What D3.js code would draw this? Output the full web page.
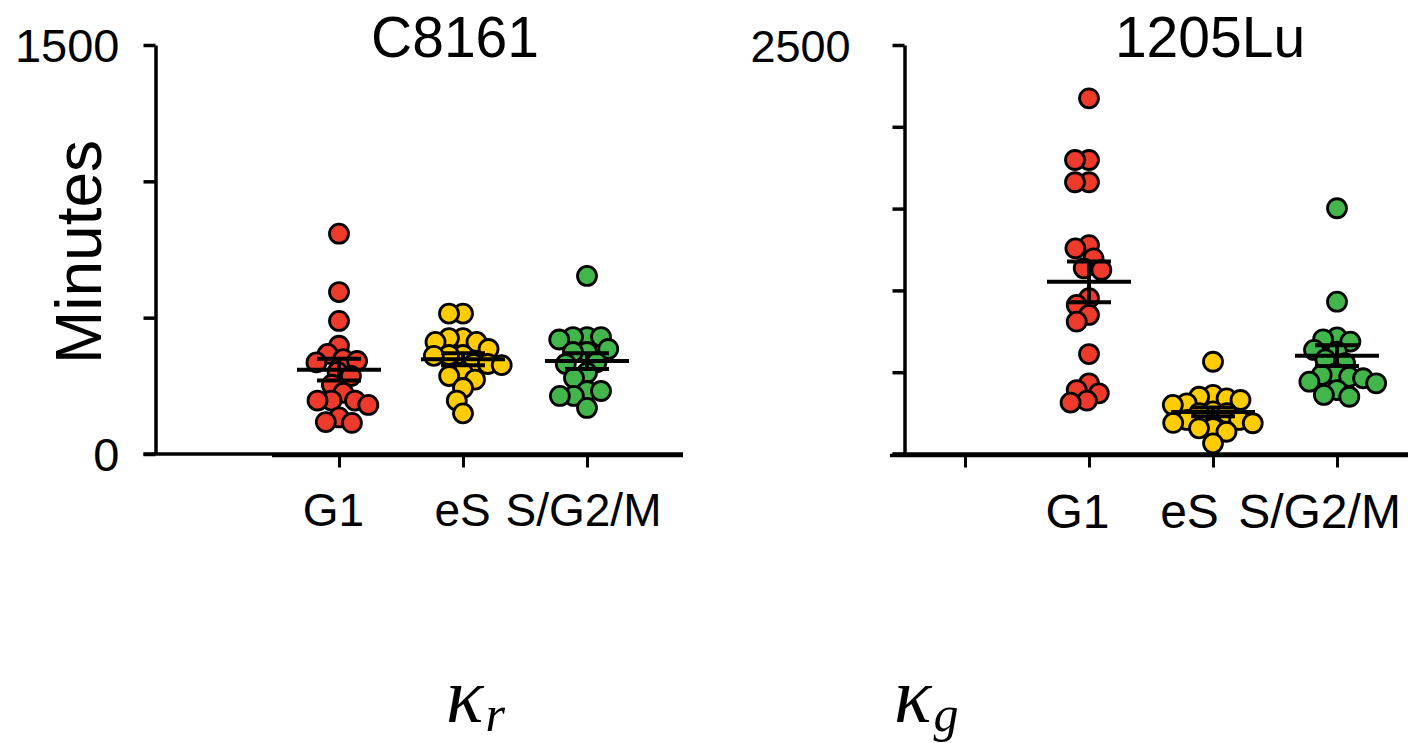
<!DOCTYPE html>
<html>
<head>
<meta charset="utf-8">
<script src="https://cdn.jsdelivr.net/npm/d3@7"></script>
<style>
  html, body { margin: 0; padding: 0; background: #fff; }
  svg { display: block; }
  text { font-family: "Liberation Sans", Arial, sans-serif; fill: #000; }
</style>
</head>
<body>
<svg id="chart" width="1408" height="743"></svg>
<script>
// Cell-cycle phases on the x axis
const phases = ["G1", "eS", "S/G2/M"];
const phaseColors = ["#EE3A2B", "#FFCC00", "#43B64B"];

// C8161 durations (minutes)
const c8161G1 = [808, 594, 488, 397, 367, 348, 341, 336, 301, 286, 254, 224, 196, 196, 196, 180, 134, 117, 114];
const c8161ES = [515, 515, 425, 425, 411, 411, 385, 363, 363, 360, 330, 330, 326, 298, 286, 273, 242, 196, 149];
const c8161SG2M = [653, 429, 429, 429, 420, 385, 374, 374, 336, 330, 298, 279, 231, 231, 213, 213, 169];

// 1205Lu durations (minutes)
const lu1205G1 = [2174, 1797, 1797, 1661, 1661, 1257, 1277, 1196, 1135, 1125, 911, 952, 809, 850, 611, 432, 371, 314, 326, 391];
const lu1205ES = [564, 361, 350, 340, 330, 310, 300, 260, 250, 250, 208, 208, 190, 188, 159, 157, 136, 65];
const lu1205SG2M = [1502, 931, 713, 701, 687, 636, 626, 578, 556, 493, 483, 472, 463, 442, 432, 391, 361, 350];

// Axis ticks
const c8161Ticks = [0, 500, 1000, 1500];
const c8161TickLabels = ["0", "", "", "1500"];
const lu1205Ticks = [0, 500, 1000, 1500, 2000, 2500];
const lu1205TickLabels = ["", "", "", "", "", "2500"];

const svg = d3.select("#chart");
const R = 9.5;        // dot radius
const MIN_D = 14;     // centre spacing in the swarm (dots overlap a little)

// Deterministic beeswarm: each dot goes as close to the category centre as it can
function swarm(values, cx, y) {
  const pts = values.map(v => ({ v, y: y(v) })).sort((a, b) => d3.descending(a.v, b.v));
  const placed = [];
  for (const p of pts) {
    const near = placed.filter(q => Math.abs(q.y - p.y) < MIN_D);
    const cands = [cx];
    near.forEach(q => {
      const w = Math.sqrt(MIN_D * MIN_D - (q.y - p.y) ** 2);
      cands.push(q.x - w - 0.01, q.x + w + 0.01);
    });
    const ok = cands.filter(c => near.every(q => Math.hypot(q.x - c, q.y - p.y) >= MIN_D - 0.02));
    ok.sort((a, b) => Math.abs(a - cx) - Math.abs(b - cx) || a - b);
    p.x = ok[0];
    placed.push(p);
  }
  return placed;
}

function panel(cfg) {
  const g = svg.append("g");
  const y = d3.scaleLinear().domain(cfg.yDomain).range([454, 45]);
  const x = d3.scalePoint().domain(cfg.xDomain).range(cfg.xRange);

  // baseline under the y axis
  g.append("line")
    .attr("x1", cfg.axisX - 12).attr("x2", cfg.baseEnd)
    .attr("y1", y(0)).attr("y2", y(0))
    .attr("stroke", "#000").attr("stroke-width", 3.5);

  // category axis
  const xa = g.append("g")
    .attr("transform", `translate(0,${y(0) + 1.5})`)
    .call(d3.axisBottom(x).tickSize(12).tickPadding(26).tickSizeOuter(0));
  xa.select(".domain").remove();
  xa.append("line")
    .attr("x1", cfg.xLineStart).attr("x2", cfg.baseEnd)
    .attr("stroke", "#000").attr("stroke-width", 3.5);
  xa.selectAll(".tick line").attr("stroke", "#000").attr("stroke-width", 3);
  xa.selectAll(".tick text")
    .attr("font-size", cfg.catSize)
    .attr("dy", "0.71em")
    .attr("dx", (d, i) => cfg.labelDx[i] || 0)
    .style("font-family", "'Liberation Sans', Arial, sans-serif");

  // value axis
  const ya = g.append("g")
    .attr("transform", `translate(${cfg.axisX},0)`)
    .call(d3.axisLeft(y).tickValues(cfg.ticks).tickSize(12).tickPadding(cfg.tickPad)
      .tickSizeOuter(0)
      .tickFormat((d, i) => cfg.tickLabels[i]));
  ya.select(".domain").attr("stroke-width", 3.5);
  ya.selectAll(".tick line").attr("stroke-width", 3.5);
  ya.selectAll(".tick text")
    .attr("font-size", cfg.tickSize)
    .attr("dy", "0.36em")
    .style("font-family", "'Liberation Sans', Arial, sans-serif");

  // title
  g.append("text")
    .attr("x", cfg.titleX).attr("y", 57)
    .attr("text-anchor", "middle")
    .attr("font-size", 57)
    .text(cfg.title);

  // dots and mean ± SEM per phase
  cfg.series.forEach((vals, i) => {
    const cx = x(phases[i]);
    const dots = swarm(vals, cx, y);
    g.append("g").selectAll("circle")
      .data(dots).join("circle")
      .attr("cx", d => d.x).attr("cy", d => d.y).attr("r", R)
      .attr("fill", phaseColors[i])
      .attr("stroke", "#000").attr("stroke-width", 2.8);

    const m = d3.mean(vals);
    const sem = d3.deviation(vals) / Math.sqrt(vals.length);
    const eg = g.append("g").attr("stroke", "#000").attr("stroke-width", 4);
    eg.append("line").attr("x1", cx).attr("x2", cx).attr("y1", y(m + sem)).attr("y2", y(m - sem));
    eg.append("line").attr("x1", cx - 22).attr("x2", cx + 22).attr("y1", y(m + sem)).attr("y2", y(m + sem));
    eg.append("line").attr("x1", cx - 22).attr("x2", cx + 22).attr("y1", y(m - sem)).attr("y2", y(m - sem));
    eg.append("line").attr("x1", cx - 42).attr("x2", cx + 42).attr("y1", y(m)).attr("y2", y(m));
  });
}

panel({
  title: "C8161", titleX: 455,
  yDomain: [0, 1500], ticks: c8161Ticks, tickLabels: c8161TickLabels, tickPad: 24, tickSize: 47,
  axisX: 155.5, baseEnd: 683, xLineStart: 272,
  xDomain: phases, xRange: [339, 587], labelDx: [-6, -1, -4], catSize: 46,
  series: [c8161G1, c8161ES, c8161SG2M]
});

panel({
  title: "1205Lu", titleX: 1210,
  yDomain: [0, 2500], ticks: lu1205Ticks, tickLabels: lu1205TickLabels, tickPad: 42, tickSize: 45,
  axisX: 904.5, baseEnd: 1410, xLineStart: 890,
  xDomain: [" "].concat(phases), xRange: [965, 1337], labelDx: [0, -12, -24, -18], catSize: 48,
  series: [lu1205G1, lu1205ES, lu1205SG2M]
});

// y-axis title
svg.append("text")
  .attr("transform", "translate(101,252) rotate(-90)")
  .attr("text-anchor", "middle")
  .attr("font-size", 64)
  .text("Minutes");

// rate symbols under each panel
function kappa(xPos, sub) {
  const t = svg.append("text")
    .attr("x", xPos).attr("y", 722)
    .style("font-family", "'Liberation Serif', 'DejaVu Serif', serif")
    .style("font-style", "italic")
    .attr("font-size", 78);
  t.append("tspan").text("κ");
  t.append("tspan").attr("font-size", 50).attr("dy", 9).attr("dx", 2).text(sub);
}
kappa(446, "r");
kappa(894, "g");
</script>
</body>
</html>
